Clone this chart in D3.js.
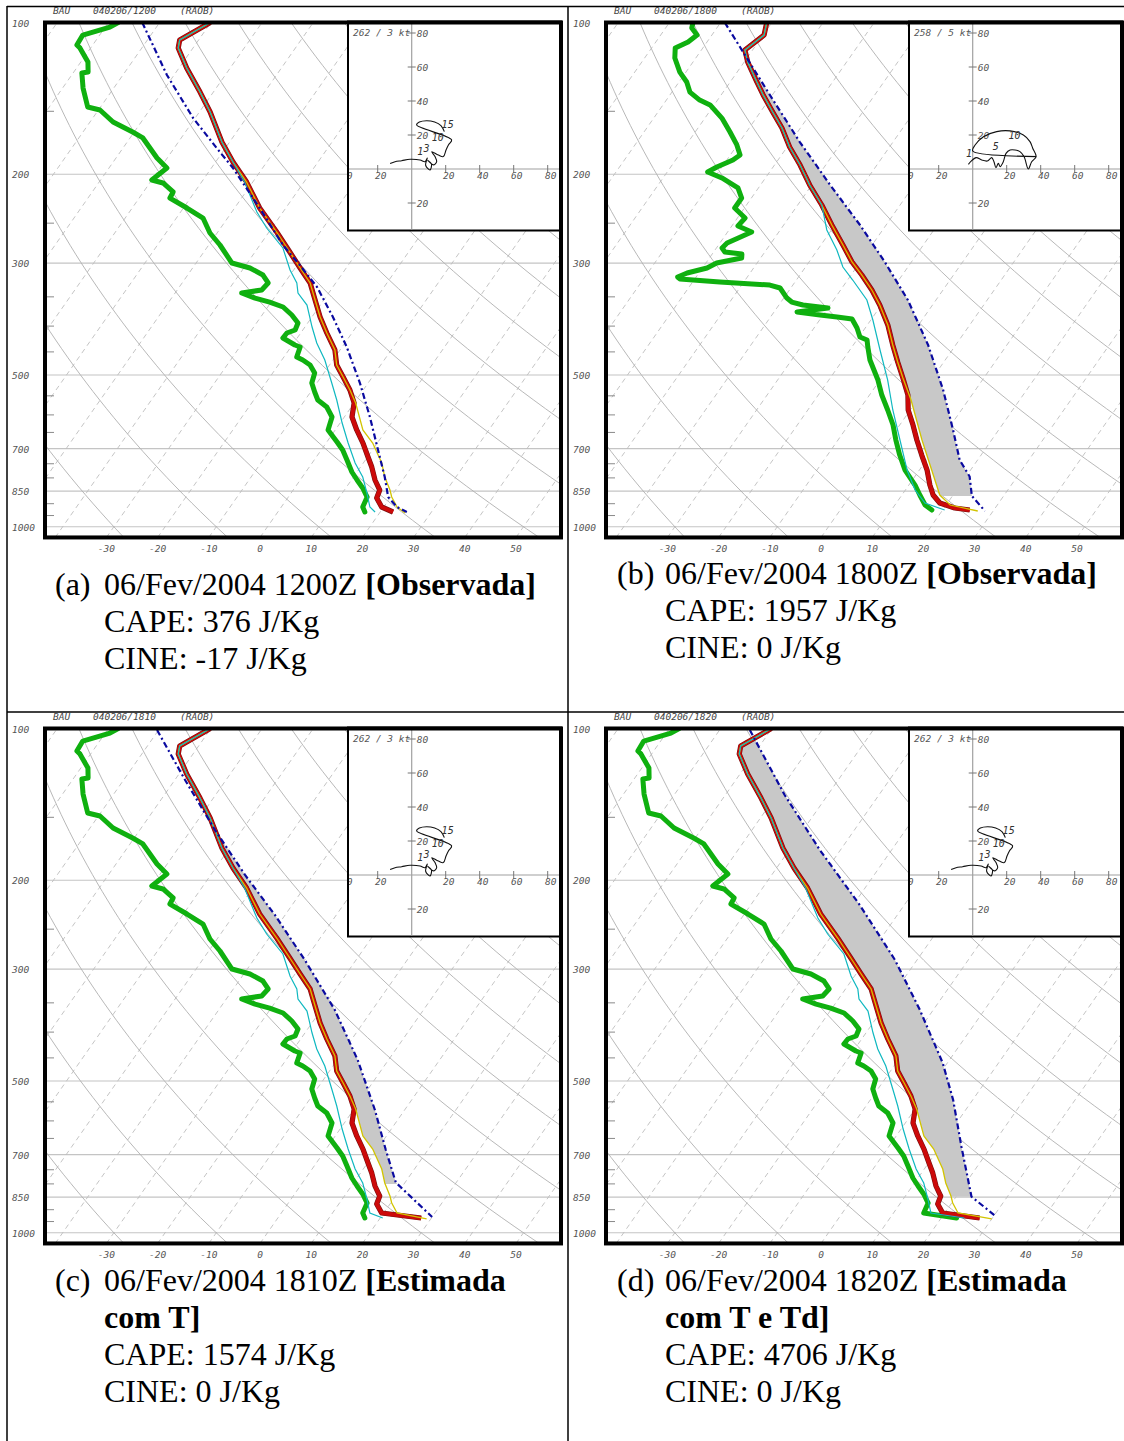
<!DOCTYPE html>
<html><head><meta charset="utf-8">
<script src="https://cdnjs.cloudflare.com/ajax/libs/d3/7.8.5/d3.min.js"></script>
<style>body{margin:0;background:#fff}svg{display:block}</style>
</head><body>
<svg id="c" width="1124" height="1441"></svg>
<script>
// ---------- DATA (pressure hPa, temperature °C) ----------
// Panel (a) 040206/1200 observed
const pRedA=[100,108.3,112.3,123.1,137.4,150.5,172.6,189.1,207.2,233.3,260.3,285.2,306.8,328.5,355.1,383.7,412.8,446.1,477.7,504.6,535.5,568.2,605.8,642.8,682.2,727.2,761.2,807.7,845.5,876.9,913.7,934.8];
const tRedA=[-80.1,-83.7,-82.9,-78.5,-72.6,-67.9,-61.5,-56.6,-51.2,-45.1,-38.5,-33.2,-29.0,-25.0,-21.7,-18.4,-14.9,-11.0,-8.6,-5.7,-2.6,0.0,1.5,4.2,7.2,10.1,12.2,14.6,16.9,17.4,19.6,22.5];
const pDewA=[100,102.1,105.9,110.8,112.3,119.8,125.4,125.9,134.9,147.1,149.1,157.5,164.9,169.4,185.6,194.3,205.3,208.1,216.8,222.9,233.3,244.2,261.5,276.2,299.9,306.8,316.8,328.5,339.2,343.9,351.9,358.4,366.6,380.2,394.4,407.2,412.8,422.3,436.0,440.0,460.6,467.0,477.7,495.6,518.7,540.5,560.6,578.7,605.8,642.8,679.1,704.4,737.3,778.8,807.7,837.8,873.0,913.7,934.8];
const tDewA=[-98.1,-99.1,-103.3,-103.1,-102.1,-98.6,-97.2,-98.3,-96.0,-92.5,-89.7,-85.5,-80.3,-77.5,-72.0,-68.7,-70.0,-67.4,-64.2,-64.0,-59.3,-54.8,-51.4,-47.8,-43.0,-38.8,-35.3,-33.2,-33.5,-37.0,-33.7,-30.3,-27.0,-24.2,-21.9,-21.5,-22.7,-22.8,-19.5,-18.2,-17.5,-15.9,-13.8,-11.8,-11.0,-9.2,-7.5,-4.8,-2.4,-1.4,2.0,4.2,6.4,9.0,11.1,13.3,15.4,15.9,17.0];
const pWetA=[100,108.3,112.3,123.1,137.4,150.5,172.6,189.1,207.2,237.6,255.6,280.0,309.6,328.5,343.9,363.3,401.7,432.1,467.0,518.7,560.6,622.7,682.2,747.4,796.7,857.1,913.7,934.8];
const tWetA=[-80.1,-83.7,-82.9,-78.5,-72.6,-67.9,-61.5,-56.6,-51.6,-45.1,-41.0,-35.1,-30.7,-27.6,-26.0,-22.6,-18.6,-15.5,-11.6,-7.1,-3.8,0.4,4.3,8.4,11.8,14.8,17.3,19.0];
const pVirtA=[100,108.3,112.3,123.1,137.4,150.5,172.6,189.1,207.2,233.3,260.3,285.2,306.8,328.5,355.1,383.7,412.8,446.1,477.7,504.6,535.5,568.2,642.8,682.2,747.4,796.7,845.5,873.0,913.7,939.0];
const tVirtA=[-80.1,-83.7,-82.9,-78.5,-72.6,-67.9,-61.5,-56.6,-51.2,-45.1,-38.5,-33.2,-29.0,-25.0,-21.7,-18.4,-14.9,-11.0,-8.6,-5.7,-2.6,0.3,5.4,9.1,13.6,16.1,18.9,20.2,22.6,25.0];
const pParA=[100,127.1,154.7,177.4,194.3,233.3,276.2,302.6,334.6,383.7,440.0,518.7,605.8,704.4,796.7,873.0,913.7,934.8];
const tParA=[-93.4,-81.4,-70.4,-61.7,-55.8,-45.1,-35.5,-29.5,-23.1,-15.9,-9.1,-1.6,5.0,11.1,16.1,19.5,22.6,25.2];

// Panel (b) 040206/1800 observed
const pRedB=[100,105.9,113.4,119.8,131.2,139.2,150.5,161.9,176.6,191.7,210.0,230.1,252.1,276.2,298.5,316.8,339.2,363.3,397.9,436.0,471.3,507.0,547.9,586.7,628.4,672.9,720.6,771.8,826.5,865.1,897.3,917.9,926.3];
const tRedB=[-81.0,-79.8,-81.5,-79.3,-74.8,-71.8,-67.6,-63.6,-59.5,-55.0,-50.4,-45.3,-40.6,-35.7,-31.6,-27.9,-23.9,-20.3,-16.0,-12.3,-9.0,-5.8,-2.5,-0.4,2.6,5.4,8.4,11.5,14.1,16.1,18.5,22.1,25.3];
const pDewB=[100,102.5,105.9,109.3,112.3,117.6,125.4,131.2,137.4,142.5,145.7,154.7,164.9,174.9,183.1,187.4,193.4,197.9,203.4,212.9,222.9,233.3,244.2,253.2,260.3,273.7,280.0,285.2,287.8,293.1,299.9,306.8,313.9,319.7,322.6,327.0,331.6,336.1,351.9,358.4,363.3,368.3,375.1,380.2,383.7,387.3,403.5,420.4,426.2,440.0,467.0,511.7,547.9,586.7,628.4,672.9,720.6,771.8,826.5,865.1,905.5,926.3];
const tDewB=[-95.4,-94.9,-92.9,-93.7,-95.4,-94.1,-91.2,-88.5,-86.5,-83.5,-80.8,-76.7,-73.2,-70.1,-68.1,-68.8,-71.0,-72.1,-68.5,-64.0,-61.9,-61.9,-58.5,-58.8,-55.3,-58.6,-58.9,-57.8,-54.2,-53.7,-57.9,-59.1,-62.3,-63.6,-62.9,-54.7,-44.5,-42.1,-39.4,-37.9,-35.3,-30.0,-35.5,-30.6,-27.0,-23.8,-21.6,-19.8,-18.0,-16.9,-14.7,-10.4,-7.6,-4.4,-1.3,1.3,4.1,7.2,11.2,13.5,15.9,17.9];
const pWetB=[100,105.9,113.4,119.8,131.2,139.2,150.5,161.9,176.6,191.7,210.0,230.1,257.9,282.6,305.4,324.1,355.1,389.0,446.1,511.7,586.7,672.9,771.8,845.5,897.3,926.3];
const tWetB=[-81.0,-79.8,-81.5,-79.3,-74.8,-71.8,-67.6,-63.6,-59.5,-55.0,-50.4,-45.3,-40.9,-36.2,-32.7,-29.0,-23.5,-19.6,-14.1,-8.5,-3.4,2.1,7.6,11.9,15.6,20.4];
const pVirtB=[100,105.9,113.4,119.8,131.2,139.2,150.5,161.9,176.6,191.7,210.0,230.1,252.1,276.2,298.5,316.8,339.2,363.3,397.9,436.0,471.3,507.0,560.6,672.9,771.8,865.1,905.5,930.5];
const tVirtB=[-81.0,-79.8,-81.5,-79.3,-74.8,-71.8,-67.6,-63.6,-59.5,-55.0,-50.4,-45.3,-40.6,-35.7,-31.6,-27.9,-23.9,-20.3,-16.0,-12.3,-9.0,-5.8,-1.2,6.4,12.4,17.4,20.8,27.0];
const pParB=[100,114.4,139.2,172.6,210.0,252.1,298.5,355.1,436.0,535.5,642.8,737.3,795.0,869.0,930.5];
const tParB=[-89.2,-81.6,-70.5,-58.2,-46.4,-35.1,-25.2,-15.5,-5.4,3.7,11.1,16.5,20.7,23.8,28.4];

// Panel (c) 1810Z: estimated surface T (surface values replace the 1200Z surface)
const tRedC=[...tRedA.slice(0,-1),28.0];
const tVirtC=[...tVirtA.slice(0,-1),29.2];
const tWetC=[...tWetA.slice(0,-1),20.5];
const pParC=[100.7,126.5,159.0,195.2,234.3,287.8,361.6,454.3,570.9,685.3,795.0,930.5];
const tParC=[-90.3,-78.0,-65.3,-53.3,-42.0,-30.0,-17.3,-6.0,4.2,11.8,18.2,30.0];
// Panel (d) 1820Z: estimated surface T and Td
const tRedD=[...tRedA.slice(0,-1),27.5];
const tDewD=[...tDewA.slice(0,-1),23.0];
const tVirtD=[...tVirtA.slice(0,-1),30.0];
const tWetD=[...tWetA.slice(0,-1),24.5];
const pParD=[100.7,135.5,174.2,223.9,287.8,361.6,460.6,545.4,675.0,848.2,929.3];
const tParD=[-84.1,-68.4,-54.0,-38.7,-24.3,-12.6,-0.9,6.2,14.2,23.0,30.6];

// hodographs (u, v in kt)
const hodoUA=[-12.7,-9.8,-5.9,-1,4.9,7.8,9.2,8.2,10.8,11.6,9.5,12.7,14.7,13.7,11.8,15.7,18.6,20.2,21.6,23.5,2.9,4.5,8.8,13.5,17.2,19.2];
const hodoVA=[3.3,4.3,4.9,5.7,5.3,4.3,6.5,2.2,-0.6,3.0,5.0,2.4,4.3,7.3,10.2,8.2,7.3,11.2,14.1,17.1,25.9,27.6,28.4,27.6,25.5,22.0];
const hodoLabA=[["15",17.6,23.9],["10",11.8,16.5],["1",3.3,8.2],["3",6.9,10.2]];
const hodoUB=[-2.5,-1.2,2.0,5.3,8.6,11.2,12.5,13.7,15.1,16.1,18.0,19.6,22.0,24.9,27.8,30.2,32.7,34.7,37.3,35.3,33.7,29.8,22,14.1,6.3,1.4,0,37.6];
const hodoVB=[2.7,4.3,6.7,5.3,4.7,6.7,4.3,0.8,3.3,1.4,4.3,9.2,11.2,11.2,10.2,7.3,0,4.3,7.3,12.2,16.1,20,22.4,22,19,14.1,10.6,7.3];
const hodoLabB=[["10",21,17.6],["5",11.8,11.2],["1",-3.9,7.3]];

const isobars=[100,200,300,500,700,850,1000];
const pTicks=[150,250,350,400,450,550,600,650,750,800,900,950];
const pLabels=[100,200,300,500,700,850,1000];
const tLabels=[-30,-20,-10,0,10,20,30,40,50];
const hodoHTicks=[-40,-20,20,40,60,80];
const hodoVTicks=[80,60,40,20,-20];

const panels=[
 {id:'a',left:45,dy:0,stamp:'040206/1200',wind:'262 / 3 kt',
  red:[pRedA,tRedA],dew:[pDewA,tDewA],wet:[pWetA,tWetA],virt:[pVirtA,tVirtA],par:[pParA,tParA],fill:null,
  hu:hodoUA,hv:hodoVA,hl:hodoLabA},
 {id:'b',left:606,dy:0,stamp:'040206/1800',wind:'258 / 5 kt',
  red:[pRedB,tRedB],dew:[pDewB,tDewB],wet:[pWetB,tWetB],virt:[pVirtB,tVirtB],par:[pParB,tParB],fill:[113,869],
  hu:hodoUB,hv:hodoVB,hl:hodoLabB},
 {id:'c',left:45,dy:706,stamp:'040206/1810',wind:'262 / 3 kt',
  red:[pRedA,tRedC],dew:[pDewA,tDewA],wet:[pWetA,tWetC],virt:[pVirtA,tVirtC],par:[pParC,tParC],fill:[150,800],
  hu:hodoUA,hv:hodoVA,hl:hodoLabA},
 {id:'d',left:606,dy:706,stamp:'040206/1820',wind:'262 / 3 kt',
  red:[pRedA,tRedD],dew:[pDewA,tDewD],wet:[pWetA,tWetD],virt:[pVirtA,tVirtD],par:[pParD,tParD],fill:[100,848],
  hu:hodoUA,hv:hodoVA,hl:hodoLabA}
];

const captions=[
 {x:55,x2:104,y:595,lines:[[["06/Fev/2004 1200Z ",false],["[Observada]",true]],[["CAPE: 376 J/Kg",false]],[["CINE: -17 J/Kg",false]]],tag:"(a)"},
 {x:617,x2:665,y:584,lines:[[["06/Fev/2004 1800Z ",false],["[Observada]",true]],[["CAPE: 1957 J/Kg",false]],[["CINE: 0 J/Kg",false]]],tag:"(b)"},
 {x:55,x2:104,y:1291,lines:[[["06/Fev/2004 1810Z ",false],["[Estimada",true]],[["com T]",true]],[["CAPE: 1574 J/Kg",false]],[["CINE: 0 J/Kg",false]]],tag:"(c)"},
 {x:617,x2:665,y:1291,lines:[[["06/Fev/2004 1820Z ",false],["[Estimada",true]],[["com T e Td]",true]],[["CAPE: 4706 J/Kg",false]],[["CINE: 0 J/Kg",false]]],tag:"(d)"}
];

// ---------- DRAWING ----------
const svg=d3.select('#c');
const SKEW=0.7;
const monoFont='"DejaVu Sans Mono", monospace';
const defs=svg.append('defs');

function interp(ps,ts,p){
  if(p<=ps[0])return ts[0];
  if(p>=ps[ps.length-1])return ts[ts.length-1];
  const i=d3.bisectRight(ps,p);
  const p0=ps[i-1],p1=ps[i];
  const f=Math.log(p/p0)/Math.log(p1/p0);
  return ts[i-1]+f*(ts[i]-ts[i-1]);
}

function drawPanel(P){
  const L=P.left,R=P.left+516,top=22.5+P.dy,yB=top+219*Math.log(10.5);
  const y=d3.scaleLog().domain([100,1050]).range([top,yB]);
  const xb=L+215;
  const xT=d3.scaleLinear().domain([0,50]).range([xb,xb+256]);
  const X=(T,p)=>xT(T)+SKEW*(yB-y(p));
  const g=svg.append('g');
  const cid='clip'+P.id;
  defs.append('clipPath').attr('id',cid).append('rect').attr('x',L).attr('y',top).attr('width',R-L).attr('height',yB-top);
  const gc=g.append('g').attr('clip-path',`url(#${cid})`);

  gc.selectAll(null).data(isobars).join('line')
    .attr('x1',L).attr('x2',R).attr('y1',d=>y(d)).attr('y2',d=>y(d))
    .attr('stroke','#c4c4c4').attr('stroke-width',1.1);
  gc.selectAll(null).data(d3.range(-170,70,10)).join('line')
    .attr('x1',d=>X(d,1050)).attr('y1',y(1050)).attr('x2',d=>X(d,100)).attr('y2',y(100))
    .attr('stroke','#bdbdbd').attr('stroke-width',0.9).attr('stroke-dasharray','5,4');
  const pgrid=d3.range(0,61).map(i=>1050*Math.pow(100/1050,i/60));
  const ln=d3.line();
  gc.selectAll(null).data(d3.range(-30,300,20)).join('path')
    .attr('d',th=>ln(pgrid.map(p=>[X((th+273.15)*Math.pow(p/1000,0.2857)-273.15,p),y(p)])))
    .attr('fill','none').attr('stroke','#b0b0b0').attr('stroke-width',0.9);
  gc.selectAll(null).data(pTicks).join('line')
    .attr('x1',L).attr('x2',L+9).attr('y1',d=>y(d)).attr('y2',d=>y(d))
    .attr('stroke','#8a8a8a').attr('stroke-width',1);

  // CAPE shading
  if(P.fill){
    const [pt,pb]=P.fill;
    const ps=d3.range(0,241).map(i=>pt*Math.pow(pb/pt,i/240));
    const area=d3.area()
      .x0(p=>X(interp(P.virt[0],P.virt[1],p),p))
      .x1(p=>X(Math.max(interp(P.par[0],P.par[1],p),interp(P.virt[0],P.virt[1],p)),p))
      .y(p=>y(p));
    gc.append('path').attr('d',area(ps)).attr('fill','#c8c8c8').attr('stroke','none');
  }
  const prof=d3.line().x(d=>X(d[1],d[0])).y(d=>y(d[0])).curve(d3.curveLinear);
  const pairs=a=>a[0].map((p,i)=>[p,a[1][i]]);
  gc.append('path').attr('d',prof(pairs(P.dew))).attr('fill','none').attr('stroke','#0fb00f')
    .attr('stroke-width',5).attr('stroke-linejoin','round').attr('stroke-linecap','round');
  gc.append('path').attr('d',prof(pairs(P.red))).attr('fill','none').attr('stroke','#7a1010')
    .attr('stroke-width',5.2).attr('stroke-linejoin','round');
  gc.append('path').attr('d',prof(pairs(P.red))).attr('fill','none').attr('stroke','#cc0a0a')
    .attr('stroke-width',4).attr('stroke-linejoin','round');
  gc.append('path').attr('d',prof(pairs(P.virt))).attr('fill','none').attr('stroke','#d2c400')
    .attr('stroke-width',1.3);
  gc.append('path').attr('d',prof(pairs(P.wet))).attr('fill','none').attr('stroke','#10b8c0')
    .attr('stroke-width',1.2);
  gc.append('path').attr('d',prof(pairs(P.par))).attr('fill','none').attr('stroke','#0a0aa0')
    .attr('stroke-width',2.2).attr('stroke-dasharray','6,3,2,3');

  // hodograph
  const hx=L+303,hw=R-hx,hy=top-1,hh=209;
  const hg=g.append('g');
  hg.append('rect').attr('x',hx).attr('y',hy).attr('width',hw).attr('height',hh).attr('fill','#fff')
    .attr('stroke','#000').attr('stroke-width',2);
  const hcid='hclip'+P.id;
  defs.append('clipPath').attr('id',hcid).append('rect').attr('x',hx+1).attr('y',hy+1).attr('width',hw-2).attr('height',hh-2);
  const hin=hg.append('g').attr('clip-path',`url(#${hcid})`);
  const cx=hx+63.7,cy=169+P.dy;
  const hu=d3.scaleLinear().domain([0,20]).range([cx,cx+34]);
  const hvs=d3.scaleLinear().domain([0,20]).range([cy,cy-34]);
  hin.append('line').attr('x1',hx).attr('x2',hx+hw).attr('y1',cy).attr('y2',cy).attr('stroke','#a0a0a0').attr('stroke-width',1.2);
  hin.append('line').attr('x1',cx).attr('x2',cx).attr('y1',hy).attr('y2',hy+hh).attr('stroke','#a0a0a0').attr('stroke-width',1.2);
  hin.selectAll(null).data(hodoHTicks).join('line').attr('x1',d=>hu(d)).attr('x2',d=>hu(d))
    .attr('y1',cy-4).attr('y2',cy+4).attr('stroke','#777');
  hin.selectAll(null).data(hodoHTicks).join('text').attr('x',d=>hu(d)+3).attr('y',cy+10)
    .attr('text-anchor','middle').attr('font-family',monoFont).attr('font-style','italic')
    .attr('font-size',9.5).attr('fill','#555').text(d=>Math.abs(d));
  hin.selectAll(null).data(hodoVTicks).join('line').attr('x1',cx-4).attr('x2',cx+4)
    .attr('y1',d=>hvs(d)).attr('y2',d=>hvs(d)).attr('stroke','#777');
  hin.selectAll(null).data(hodoVTicks).join('text').attr('x',cx+5).attr('y',d=>hvs(d)+3.5)
    .attr('font-family',monoFont).attr('font-style','italic')
    .attr('font-size',9.5).attr('fill','#555').text(d=>Math.abs(d));
  const hline=d3.line().x(d=>hu(d[0])).y(d=>hvs(d[1])).curve(d3.curveCatmullRom.alpha(0.5));
  hin.append('path').attr('d',hline(P.hu.map((u,i)=>[u,P.hv[i]]))).attr('fill','none')
    .attr('stroke','#111').attr('stroke-width',1.1);
  hin.selectAll(null).data(P.hl).join('text').attr('x',d=>hu(d[1])).attr('y',d=>hvs(d[2]))
    .attr('font-family',monoFont).attr('font-style','italic').attr('font-size',10).attr('fill','#333').text(d=>d[0]);
  hin.append('text').attr('x',hx+5).attr('y',top+13).attr('font-family',monoFont).attr('font-style','italic')
    .attr('font-size',9.5).attr('fill','#555').text(P.wind);

  // frame
  g.append('rect').attr('x',L).attr('y',top).attr('width',R-L).attr('height',yB-top)
    .attr('fill','none').attr('stroke','#000').attr('stroke-width',4);

  // axis labels
  g.selectAll(null).data(pLabels).join('text').attr('x',L-33).attr('y',d=>y(d)+4)
    .attr('font-family',monoFont).attr('font-style','italic').attr('font-size',9.5)
    .attr('fill','#555').text(d=>d);
  g.selectAll(null).data(tLabels).join('text').attr('x',d=>xT(d)).attr('y',yB+15)
    .attr('text-anchor','middle').attr('font-family',monoFont).attr('font-style','italic').attr('font-size',9.5)
    .attr('fill','#555').text(d=>d);
  // header
  const hdr=[["BAU",L+8],[P.stamp,L+48],["(RAOB)",L+135]];
  g.selectAll(null).data(hdr).join('text').attr('x',d=>d[1]).attr('y',top-9)
    .attr('font-family',monoFont).attr('font-style','italic').attr('font-size',9.5)
    .attr('fill','#444').text(d=>d[0]);
}
panels.forEach(drawPanel);

// table borders
const tb=svg.append('g').attr('stroke','#000').attr('stroke-width',1.5);
tb.append('line').attr('x1',7).attr('x2',7).attr('y1',6).attr('y2',1441);
tb.append('line').attr('x1',568).attr('x2',568).attr('y1',6).attr('y2',1441);
tb.append('line').attr('x1',7).attr('x2',1124).attr('y1',6.5).attr('y2',6.5);
tb.append('line').attr('x1',7).attr('x2',1124).attr('y1',712).attr('y2',712);

// captions
captions.forEach(c=>{
  svg.append('text').attr('x',c.x).attr('y',c.y).attr('font-family','"Liberation Serif", serif')
    .attr('font-size',32).attr('fill','#000').text(c.tag);
  c.lines.forEach((ln,i)=>{
    const t=svg.append('text').attr('x',c.x2).attr('y',c.y+i*37).attr('font-family','"Liberation Serif", serif')
      .attr('font-size',32).attr('fill','#000').attr('xml:space','preserve');
    ln.forEach(s=>t.append('tspan').attr('font-weight',s[1]?'bold':'normal').text(s[0]));
  });
});
</script></body></html>
